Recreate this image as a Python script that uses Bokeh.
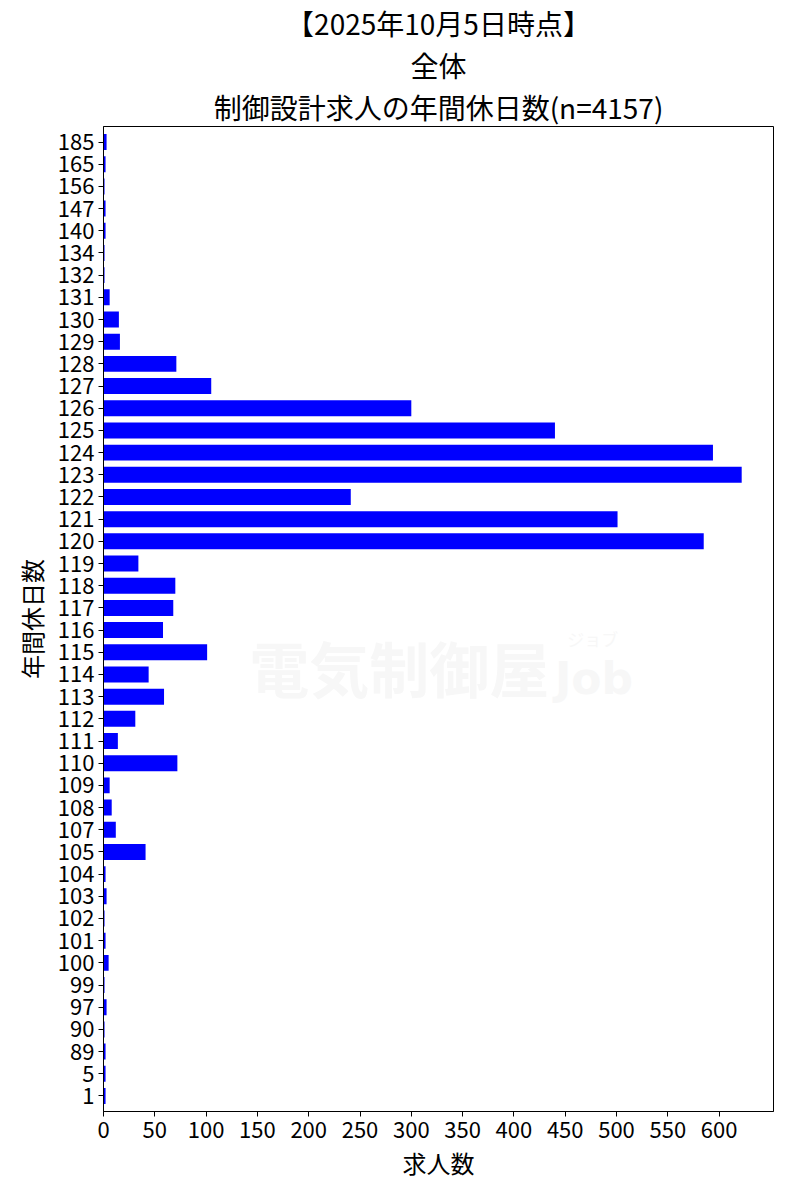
from bokeh.plotting import figure
from bokeh.models import (FactorRange, Range1d, FixedTicker, Title, Label,
                          ColumnDataSource)
from bokeh.embed import file_html
from bokeh.resources import INLINE

# Annual holidays (days) per job posting and the number of postings for each
holiday_days = ["1", "5", "89", "90", "97", "99", "100", "101", "102", "103",
                "104", "105", "107", "108", "109", "110", "111", "112", "113",
                "114", "115", "116", "117", "118", "119", "120", "121", "122",
                "123", "124", "125", "126", "127", "128", "129", "130", "131",
                "132", "134", "140", "147", "156", "165", "185"]
job_counts = [2, 2, 2, 1, 3, 1, 5, 2, 1, 3,
              2, 41, 12, 8, 6, 72, 14, 31, 59,
              44, 101, 58, 68, 70, 34, 585, 501, 241,
              622, 594, 440, 300, 105, 71, 16, 15, 6,
              1, 1, 2, 2, 1, 2, 3]
x_ticks = list(range(0, 601, 50))

title_lines = ["【2025年10月5日時点】", "全体", "制御設計求人の年間休日数(n=4157)"]
x_label = "求人数"
y_label = "年間休日数"

FONT = "Noto Sans CJK JP"

source = ColumnDataSource(data=dict(days=holiday_days, count=job_counts))

p = figure(width=800, height=1200, output_backend="svg", toolbar_location=None,
           y_range=FactorRange(factors=holiday_days, range_padding=0.2,
                               range_padding_units="absolute"),
           x_range=Range1d(0, 653),
           min_border_left=103, min_border_right=27,
           min_border_top=123, min_border_bottom=89)
p.title = None

# stacked three-line heading, bottom line added first so it sits next to the frame
for line in reversed(title_lines):
    p.add_layout(Title(text=line, align="center", text_font=FONT,
                       text_font_size="28px", text_font_style="normal",
                       text_color="black", standoff=0), "above")

# faint watermark behind the bars
p.add_layout(Label(x=142, y=19.85, text="電気制御屋", text_font=FONT,
                   text_font_size="60px", text_font_style="bold",
                   text_color="#f7f7f7", text_baseline="middle"))
p.add_layout(Label(x=440, y=19.3, text="Job", text_font="DejaVu Sans",
                   text_font_size="44px", text_font_style="bold",
                   text_color="#f7f7f7", text_baseline="middle"))
p.add_layout(Label(x=452, y=21.1, text="ジョブ", text_font=FONT,
                   text_font_size="17px", text_color="#f7f7f7",
                   text_baseline="middle"))

p.hbar(y="days", right="count", left=0, height=0.72, source=source,
       fill_color="#0000ff", line_color=None)

p.xgrid.visible = False
p.ygrid.visible = False
p.outline_line_color = "black"
p.outline_line_width = 1
p.outline_line_alpha = 1

p.xaxis.ticker = FixedTicker(ticks=x_ticks)
p.xaxis.axis_label = x_label
p.yaxis.axis_label = y_label

for ax in (p.xaxis, p.yaxis):
    ax.axis_line_color = "black"
    ax.major_tick_line_color = "black"
    ax.major_tick_out = 5
    ax.major_tick_in = 0
    ax.minor_tick_line_color = None
    ax.major_label_text_font = FONT
    ax.major_label_text_font_size = "22px"
    ax.major_label_text_color = "black"
    ax.axis_label_text_font = FONT
    ax.axis_label_text_font_size = "24px"
    ax.axis_label_text_font_style = "normal"
    ax.axis_label_text_color = "black"

p.xaxis.major_label_standoff = 5
p.xaxis.axis_label_standoff = 4
p.yaxis.major_label_standoff = 4
p.yaxis.axis_label_standoff = 6

open("out.html", "w").write(file_html(p, INLINE))
